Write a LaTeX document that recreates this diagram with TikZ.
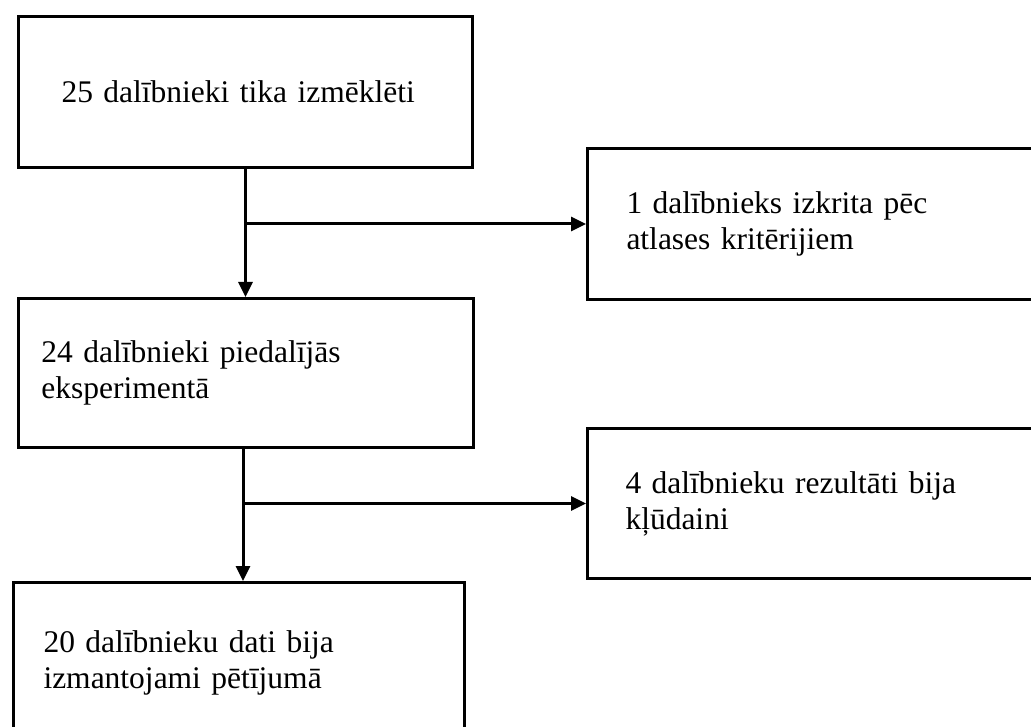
\documentclass[tikz,border=0pt]{standalone}
\usepackage{fontspec}
\setmainfont{Liberation Serif}
\usetikzlibrary{arrows.meta}

\begin{document}
\begin{tikzpicture}[x=1pt,y=-1pt,line width=3pt,
    >={Triangle[length=15pt,width=14pt]},
    box/.style={draw,anchor=north west,align=left,minimum height=151pt,
      font=\fontsize{31.5}{36}\selectfont}]
    \useasboundingbox (0,0) rectangle (1031,727);
    \node[box,inner xsep=43pt,text width=368pt] (scr) at (17,15) {25 dalībnieki tika izmēklēti};
    \node[box,inner xsep=39pt,text width=376pt] (excl) at (586,147) {1 dalībnieks izkrita pēc\\atlases kritērijiem};
    \node[box,inner xsep=23pt,text width=409pt,minimum height=149pt] (part) at (17,297) {24 dalībnieki piedalījās\\eksperimentā};
    \node[box,inner xsep=38pt,text width=378pt,minimum height=150pt] (err) at (586,427) {4 dalībnieku rezultāti bija\\kļūdaini};
    \node[box,inner xsep=30pt,text width=391pt,minimum height=160pt] (used) at (12,581) {20 dalībnieku dati bija\\izmantojami pētījumā};
    \draw[->] (scr.south) -- (scr.south |- part.north);
    \draw[->] (scr.south |- excl.west) -- (excl.west);
    \draw[->] ([xshift=-3pt]part.south) -- ([xshift=-3pt]part.south |- used.north);
    \draw[->] ([xshift=-3pt]part.south |- err.west) -- (err.west);
\end{tikzpicture}
\end{document}
